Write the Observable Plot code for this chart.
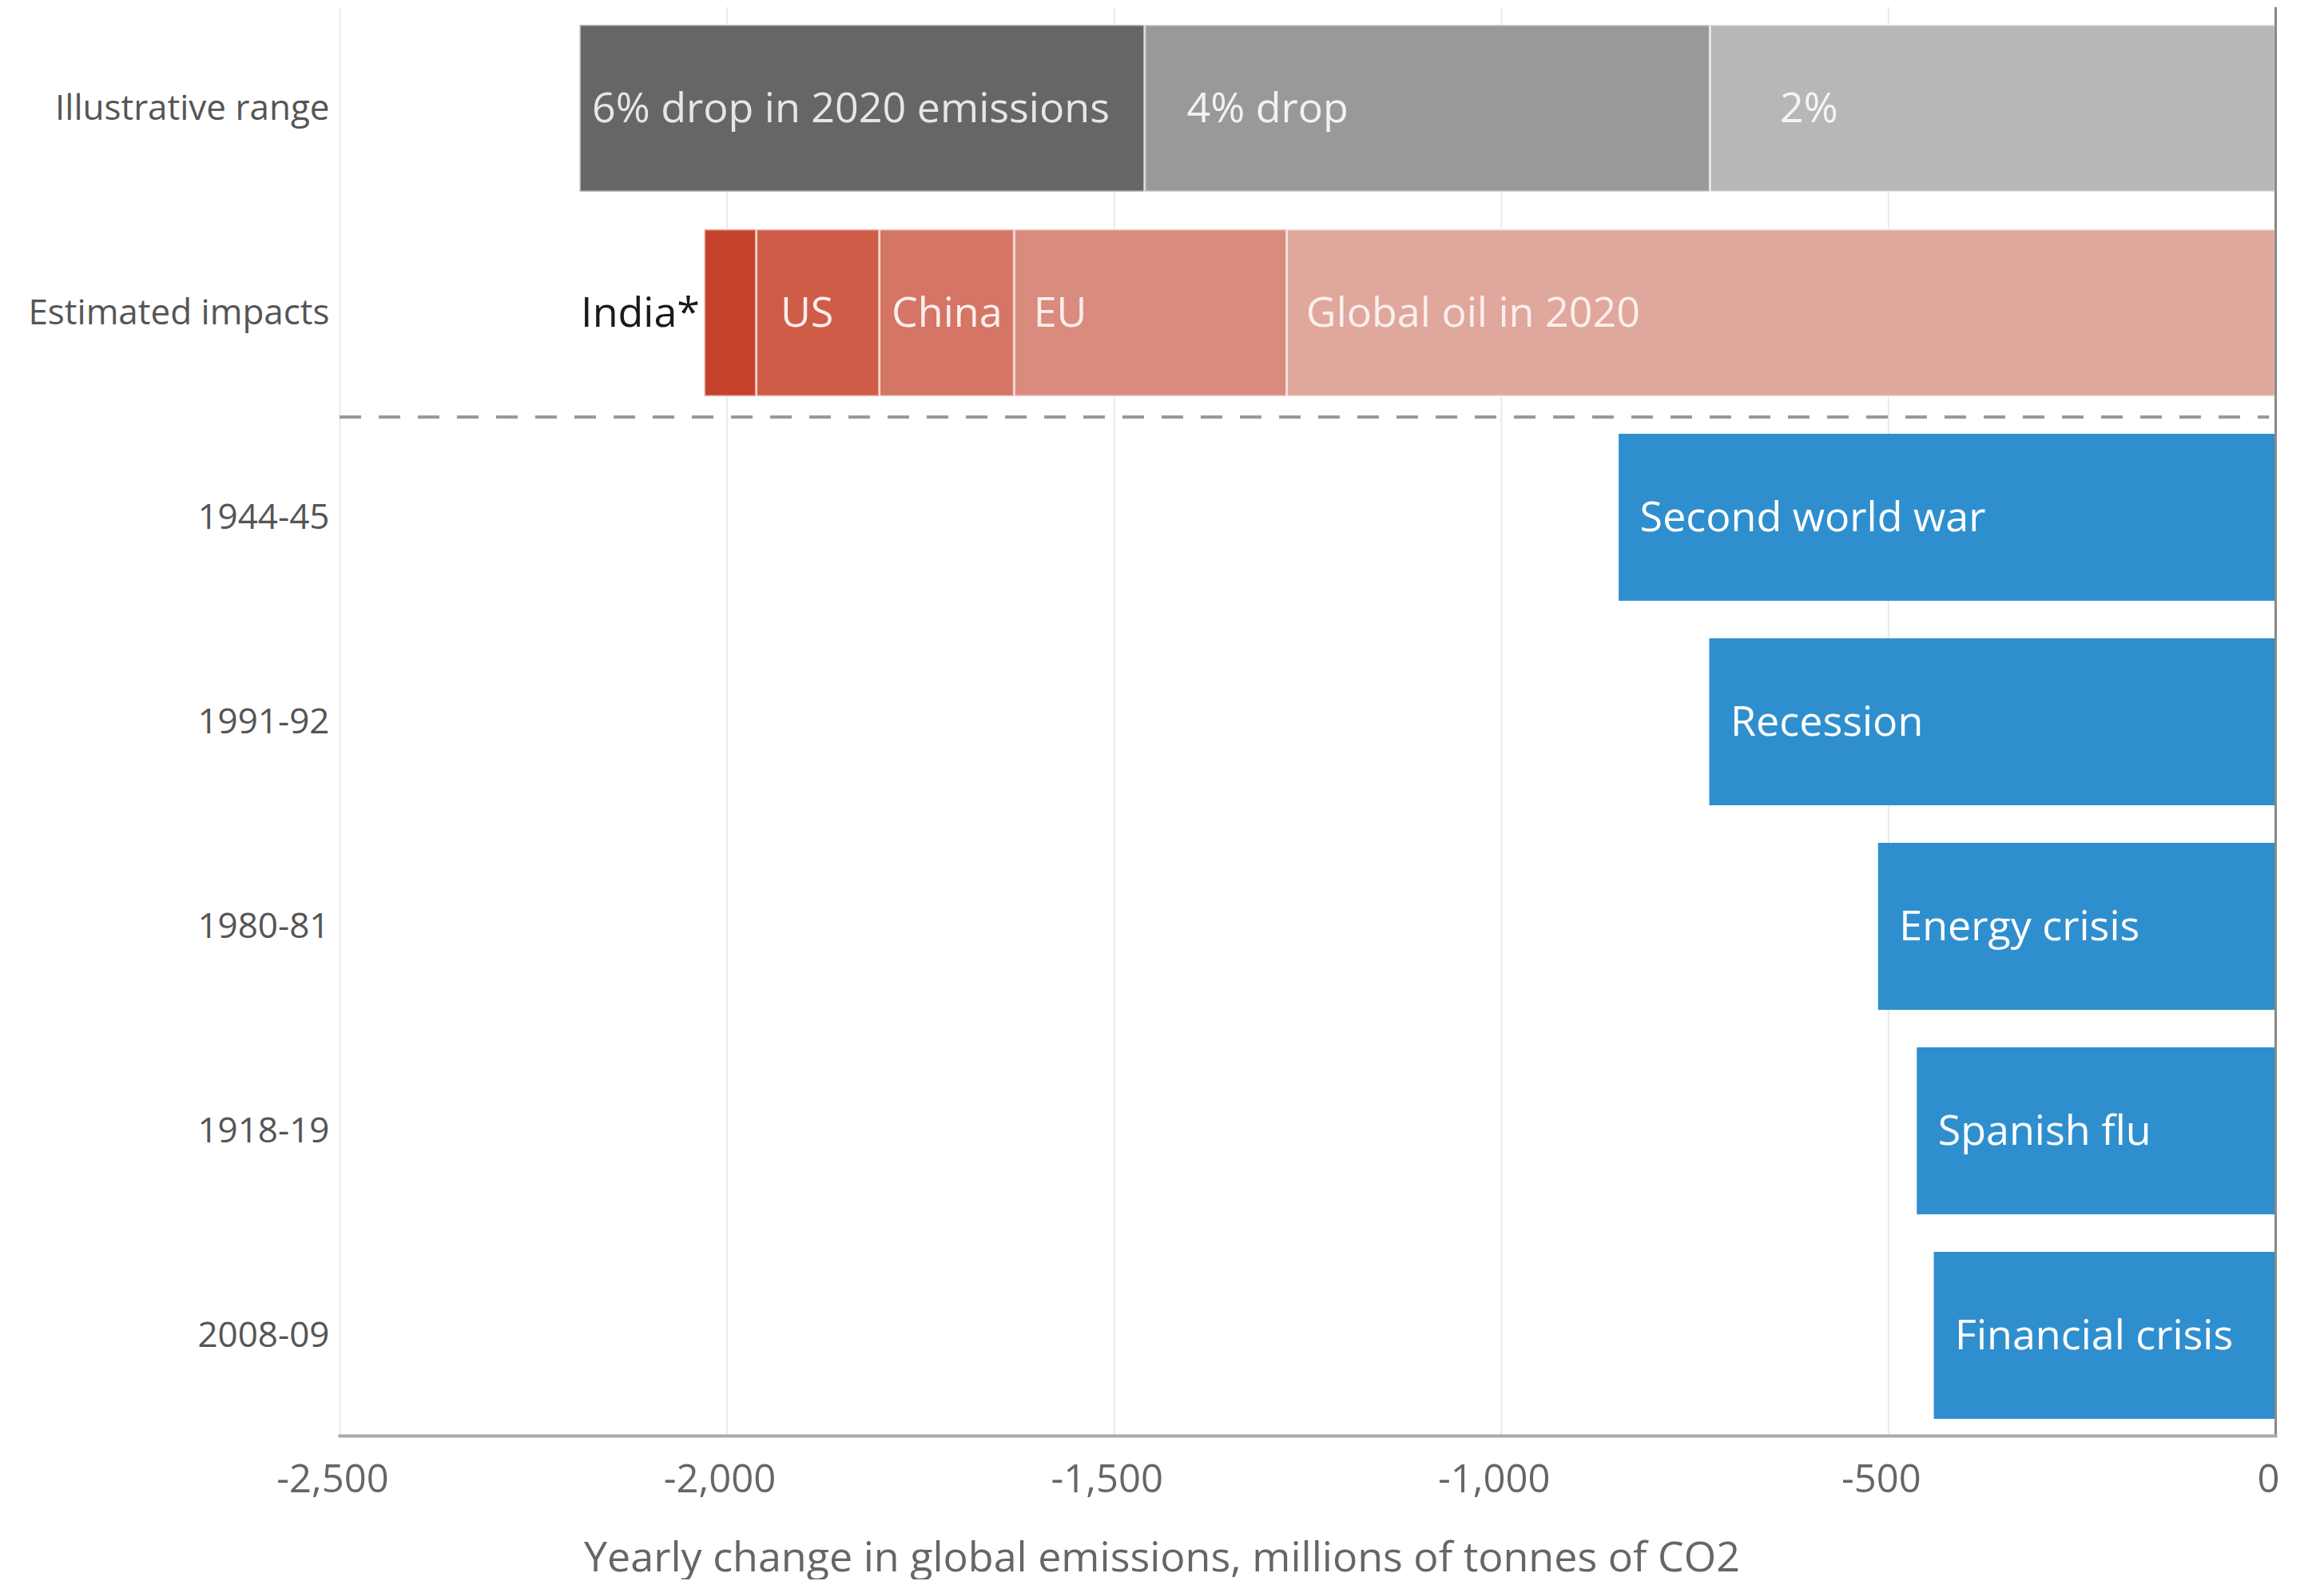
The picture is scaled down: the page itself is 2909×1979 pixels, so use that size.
<!DOCTYPE html>
<html><head><meta charset="utf-8">
<script src="https://cdn.jsdelivr.net/npm/d3@7"></script>
<script src="https://cdn.jsdelivr.net/npm/@observablehq/plot@0.6"></script>
<style>
html,body{margin:0;padding:0;background:#fff;}
#chart{width:2909px;}
#xlabel{font-family:"Open Sans";font-size:52px;color:#666;text-align:center;width:2909px;margin-top:20px;line-height:60px;}
</style></head><body>
<div id="chart"></div>
<div id="xlabel">Yearly change in global emissions, millions of tonnes of CO2</div>
<script>
const rowLabels = ["Illustrative range","Estimated impacts","1944-45","1991-92","1980-81","1918-19","2008-09"];
const illustrativeLabels = ["6% drop in 2020 emissions","4% drop","2%"];
const illustrativeValues = [-2190,-1460,-730];
const illustrativeColors = ["#666666","#999999","#b7b7b7"];
const impactLabels = ["Global oil in 2020","EU","China","US","India*"];
const impactValues = [-1277,-352,-174,-159,-67];
const impactColors = ["#e0a79c","#d98b7e","#d47565","#cf5c47","#c5432c"];
const eventYears = ["1944-45","1991-92","1980-81","1918-19","2008-09"];
const eventLabels = ["Second world war","Recession","Energy crisis","Spanish flu","Financial crisis"];
const eventValues = [-848,-731,-513,-463,-441];
const xTicks = [-2500,-2000,-1500,-1000,-500,0];

const illus = illustrativeLabels.map((label,i)=>({
  row:"Illustrative range", label,
  x1: illustrativeValues[i],
  x2: i < illustrativeValues.length-1 ? illustrativeValues[i+1] : 0,
  color: illustrativeColors[i]
}));
const impacts = impactLabels.map((label,i)=>({row:"Estimated impacts", label, value:impactValues[i], color:impactColors[i]}));
const events = eventYears.map((year,i)=>({row:year, label:eventLabels[i], value:eventValues[i]}));

const fs = 52;
const impactText = (names, dx) => Plot.text(impacts, Plot.stackX2({
  x:"value", y:"row", text:d=>names.includes(d.label)?d.label:null,
  textAnchor:"start", dx, fill:"#fbefec", fontSize:fs}));

const chart = Plot.plot({
  width:2909, height:1897,
  marginTop:9, marginBottom:100, marginLeft:425, marginRight:61,
  style:{fontFamily:"Open Sans", background:"#fff", overflow:"visible"},
  x:{domain:[-2500,0]},
  y:{domain:rowLabels, paddingInner:0.185, paddingOuter:0.08},
  color:{type:"identity"},
  marks:[
    Plot.ruleX(xTicks.slice(0,-1), {stroke:"#e9e9e9", strokeWidth:2}),
    Plot.barX(illus, {x1:"x1", x2:"x2", y:"row", fill:"color", stroke:"#fff", strokeOpacity:0.55, strokeWidth:3}),
    Plot.barX(impacts, Plot.stackX({x:"value", y:"row", fill:"color", stroke:"#fff", strokeOpacity:0.55, strokeWidth:3})),
    Plot.barX(events, {x1:"value", x2:0, y:"row", fill:"#2f8fce"}),
    Plot.text(illus.slice(0,1), {x:"x1", y:"row", text:"label", textAnchor:"start", dx:15, fill:"#e6e6e6", fontSize:fs}),
    Plot.text(illus.slice(1,2), {x:"x1", y:"row", text:"label", textAnchor:"start", dx:52, fill:"#f2f2f2", fontSize:fs}),
    Plot.text(illus.slice(2,3), {x:"x1", y:"row", text:"label", textAnchor:"start", dx:87, fill:"#f5f5f5", fontSize:fs}),
    impactText(["Global oil in 2020","EU"], 24),
    impactText(["China"], 15),
    impactText(["US"], 30),
    Plot.text(impacts, Plot.stackX2({x:"value", y:"row", text:d=>d.label==="India*"?d.label:null, textAnchor:"end", dx:-6, fill:"#1a1a1a", fontSize:fs})),
    Plot.text(events, {x:"value", y:"row", text:"label", textAnchor:"start", dx:26, fill:"#ffffff", fontSize:fs}),
    Plot.ruleY(["1944-45"], {y:d=>d, x1:-2500, x2:-8, dy:-126, stroke:"#999", strokeWidth:4, strokeDasharray:"27,22"}),
    Plot.ruleX([0], {stroke:"#888", strokeWidth:3}),
    Plot.frame({anchor:"bottom", stroke:"#aaa", strokeWidth:4}),
    Plot.axisX({ticks:xTicks, tickSize:0, tickPadding:36, dx:-9, fontSize:49, fill:"#666", label:null, tickFormat:d=>d.toLocaleString("en-US")}),
    Plot.axisY({tickSize:0, tickPadding:13, fontSize:44, fill:"#555", label:null})
  ]
});
document.getElementById("chart").appendChild(chart);
</script>
</body></html>
